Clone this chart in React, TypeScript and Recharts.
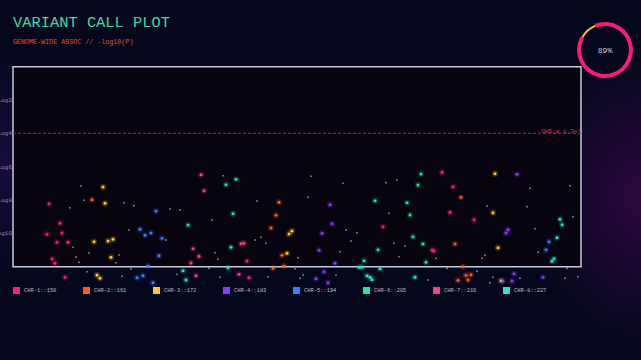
import {
  ScatterChart,
  Scatter,
  XAxis,
  YAxis,
  CartesianGrid,
  ReferenceLine,
  ReferenceArea,
  Legend,
  PieChart,
  Pie,
  Cell,
  Label,
} from 'recharts'

const MONO = '"Liberation Mono", "DejaVu Sans Mono", monospace'

// legend names and colours, one per chromosome
const chromosomes = [
  'CHR-1::150',
  'CHR-2::161',
  'CHR-3::172',
  'CHR-4::183',
  'CHR-5::194',
  'CHR-6::205',
  'CHR-7::216',
  'CHR-8::227',
]
const chrColors = ['#ff1f6e', '#ff5a1f', '#ffc81e', '#8a3dff', '#3d7dff', '#1fe6a2', '#ff3d86', '#22e8d2']

// [position, -log10(p)]
const chr1: [number, number][] = [
  [36, 3.78], [47, 2.6], [49, 2.02], [34, 1.94], [44, 1.46], [55, 1.46], [39, 0.46], [42, 0.2], [52, -0.64],
  [429, 5.66], [440, 4.8], [437, 3.26], [461, 2.82], [370, 2.4], [419, 1.0], [421, 0.94], [234, 0.34], [236, -0.66],
]
const chr2: [number, number][] = [
  [79, 4.02], [266, 3.86], [263, 3.08], [258, 2.32], [269, 0.68], [260, -0.1], [271, 0.04],
  [448, 4.16], [442, 1.36], [450, 0.0], [453, -0.52], [458, -0.48], [445, -0.82], [455, -0.8],
]
const chr3: [number, number][] = [
  [90, 4.78], [92, 3.8], [81, 1.5], [95, 1.54], [100, 1.64], [98, 0.56], [84, -0.5], [87, -0.7],
  [279, 2.14], [276, 1.96], [274, 0.8], [482, 5.58], [480, 3.24], [485, 1.14], [488, -0.84],
]
const chr4: [number, number][] = [
  [317, 3.72], [319, 2.58], [309, 2.0], [306, 0.98], [322, 0.2], [311, -0.3], [303, -0.72], [315, -0.96],
  [504, 5.54], [495, 2.22], [493, 2.02], [501, -0.42], [490, -0.86], [499, -0.86], [530, -0.64],
]
const chr5: [number, number][] = [
  [143, 3.34], [127, 2.24], [132, 1.88], [138, 2.02], [149, 1.7], [146, 0.66], [135, 0.04], [130, -0.54],
  [124, -0.66], [140, -0.96], [536, 1.5], [533, 1.02],
]
const chr6: [number, number][] = [
  [223, 5.24], [213, 4.92], [220, 3.18], [175, 2.5], [218, 1.16], [408, 5.56], [405, 4.9], [362, 3.96],
  [394, 3.84], [397, 3.1], [400, 1.8], [410, 1.36], [365, 1.02], [351, 0.36], [413, 0.26],
]
const chr7: [number, number][] = [
  [188, 5.52], [191, 4.56], [228, 1.38], [231, 1.4], [180, 1.08], [186, 0.62], [178, 0.22], [183, -0.54], [226, -0.46],
]
const chr8: [number, number][] = [
  [170, -0.24], [173, -0.8], [215, -0.06], [349, -0.04], [346, -0.04], [367, -0.12], [354, -0.54], [357, -0.64],
  [359, -0.78], [402, -0.64], [547, 2.84], [549, 2.52], [544, 1.74], [541, 0.48], [539, 0.32],
]
// sub-threshold background calls
const noise: [number, number][] = [
  [210, 5.46], [68, 4.84], [71, 3.98], [57, 3.54], [157, 3.46], [167, 3.4], [244, 3.94], [199, 2.8], [116, 2.2],
  [153, 1.6], [60, 1.16], [242, 1.6], [248, 1.76], [253, 1.4], [202, 0.84], [205, 0.44], [285, 0.54], [103, 0.24],
  [63, 0.58], [66, 0.26], [76, 0.82], [282, -0.12], [109, -0.58], [74, -0.3], [164, -0.46], [207, -0.64],
  [255, -0.6], [287, -0.7], [290, -0.5], [118, -0.14], [111, 3.84], [121, 3.66], [106, 0.7], [196, -0.1],
  [298, 5.42], [330, 5.0], [373, 5.04], [384, 5.2], [517, 4.7], [557, 4.86], [295, 4.16], [474, 3.64], [514, 3.6],
  [376, 3.2], [333, 2.2], [344, 2.04], [522, 2.28], [560, 3.0], [338, 1.54], [327, 0.9], [381, 1.4], [392, 1.24],
  [386, 0.6], [469, 0.5], [472, 0.68], [525, 0.86], [423, 0.5], [434, -0.1], [323, -0.52], [415, -0.8],
  [464, -0.28], [480, -0.64], [507, -0.7], [552, -0.7], [554, -0.1], [565, -0.6], [477, -0.96],
]
const series = [chr1, chr2, chr3, chr4, chr5, chr6, chr7, chr8]

const yTicks = [2, 4, 6, 8, 10]
const threshold = 8
const thresholdLabel = 'GWS ≥ 1.3e⁸'
const gauge = [
  { name: 'done', value: 89 },
  { name: 'rest', value: 11 },
]

const toPoints = (rows: [number, number][]) => rows.map(([pos, logp]) => ({ pos, logp }))

const glowDot = (color: string) => (props: any) => {
  const { cx, cy } = props
  if (cx == null || cy == null) return <g />
  return (
    <g>
      <circle cx={cx} cy={cy} r={3.2} fill={color} opacity={0.2} />
      <circle cx={cx} cy={cy} r={1.5} fill={color} />
    </g>
  )
}

const tinyDot = (props: any) => {
  const { cx, cy } = props
  if (cx == null || cy == null) return <g />
  return <circle cx={cx} cy={cy} r={1} fill="#9aa0ba" opacity={0.75} />
}

const renderLegend = (props: any) => {
  const items = (props.payload || []).filter((p: any) => p.type !== 'none')
  return (
    <div style={{ display: 'flex', fontFamily: MONO, fontSize: 5.4, color: '#b9bccd' }}>
      {items.map((entry: any) => (
        <div key={entry.value} style={{ width: 70, display: 'flex', alignItems: 'center' }}>
          <span style={{ width: 7, height: 7, background: entry.color, marginRight: 4, display: 'inline-block' }} />
          <span>{entry.value}</span>
        </div>
      ))}
    </div>
  )
}

export default function App() {
  return (
    <div
      style={{
        position: 'fixed',
        left: 0,
        top: 0,
        width: 641,
        height: 360,
        overflow: 'hidden',
        background:
          'radial-gradient(ellipse 110px 150px at 100% 55%, rgba(70,10,90,0.6), transparent), radial-gradient(ellipse 60px 110px at 0% 45%, rgba(50,20,110,0.45), transparent), #04071b',
      }}
    >
      <div style={{ position: 'absolute', left: 13, top: 15.5, fontFamily: MONO, fontSize: 15.4, lineHeight: 1, color: '#3fd8a8', whiteSpace: 'nowrap' }}>
        VARIANT CALL PLOT
      </div>
      <div style={{ position: 'absolute', left: 13, top: 38.6, fontFamily: MONO, fontSize: 6.7, lineHeight: 1, color: '#e0533f', whiteSpace: 'nowrap' }}>
        GENOME-WIDE ASSOC // -log10(P)
      </div>

      <div style={{ position: 'absolute', left: 0, top: 0 }}>
        <ScatterChart width={641} height={360} margin={{ top: 66.7, right: 60, bottom: 76.7, left: 0 }}>
          <ReferenceArea x1={0} x2={568} y1={0} y2={12} fill="#07030f" stroke="#c9c9d8" strokeWidth={1.5} fillOpacity={1} />
          <CartesianGrid vertical={false} horizontalValues={yTicks} stroke="#ffffff" strokeOpacity={0.08} strokeDasharray="2 3" />
          <XAxis type="number" dataKey="pos" domain={[0, 568]} hide />
          <YAxis
            type="number"
            dataKey="logp"
            domain={[-1, 12]}
            ticks={yTicks}
            interval={0}
            width={13}
            tickLine={false}
            axisLine={false}
            tickSize={0}
            tickMargin={1}
            tick={{ fontSize: 6, fill: '#8b8fa6', fontFamily: MONO }}
            tickFormatter={(v: number) => `log${12 - v}`}
          />
          <ReferenceLine y={threshold} stroke="#b8205e" strokeDasharray="3 2" strokeWidth={1}>
            <Label value={thresholdLabel} position="insideBottomRight" offset={0} fill="#d0306e" fontSize={6} fontFamily={MONO} />
          </ReferenceLine>
          <Scatter name="noise" data={toPoints(noise)} shape={tinyDot} legendType="none" isAnimationActive={false} />
          {series.map((rows, i) => (
            <Scatter
              key={chromosomes[i]}
              name={chromosomes[i]}
              data={toPoints(rows)}
              fill={chrColors[i]}
              shape={glowDot(chrColors[i])}
              isAnimationActive={false}
            />
          ))}
          <Legend
            content={renderLegend}
            layout="horizontal"
            verticalAlign="middle"
            align="center"
            wrapperStyle={{ left: 13, top: 287, width: 600, height: 8 }}
          />
        </ScatterChart>
      </div>

      <div style={{ position: 'absolute', left: 564.5, top: 10 }}>
        <PieChart width={80} height={80} margin={{ top: 0, right: 0, bottom: 0, left: 0 }}>
          <Pie data={gauge} dataKey="value" cx={40} cy={40} innerRadius={24} outerRadius={28} startAngle={112} endAngle={-248} stroke="none" isAnimationActive={false}>
            <Cell fill="#ff1a78" />
            <Cell fill="transparent" />
            <Label value="89%" position="center" fill="#c9cad8" fontSize={8} fontFamily={MONO} />
          </Pie>
          <Pie data={gauge} dataKey="value" cx={40} cy={40} innerRadius={25} outerRadius={27} startAngle={112} endAngle={-248} stroke="none" isAnimationActive={false}>
            <Cell fill="transparent" />
            <Cell fill="#f2c03c" />
          </Pie>
        </PieChart>
      </div>
    </div>
  )
}
